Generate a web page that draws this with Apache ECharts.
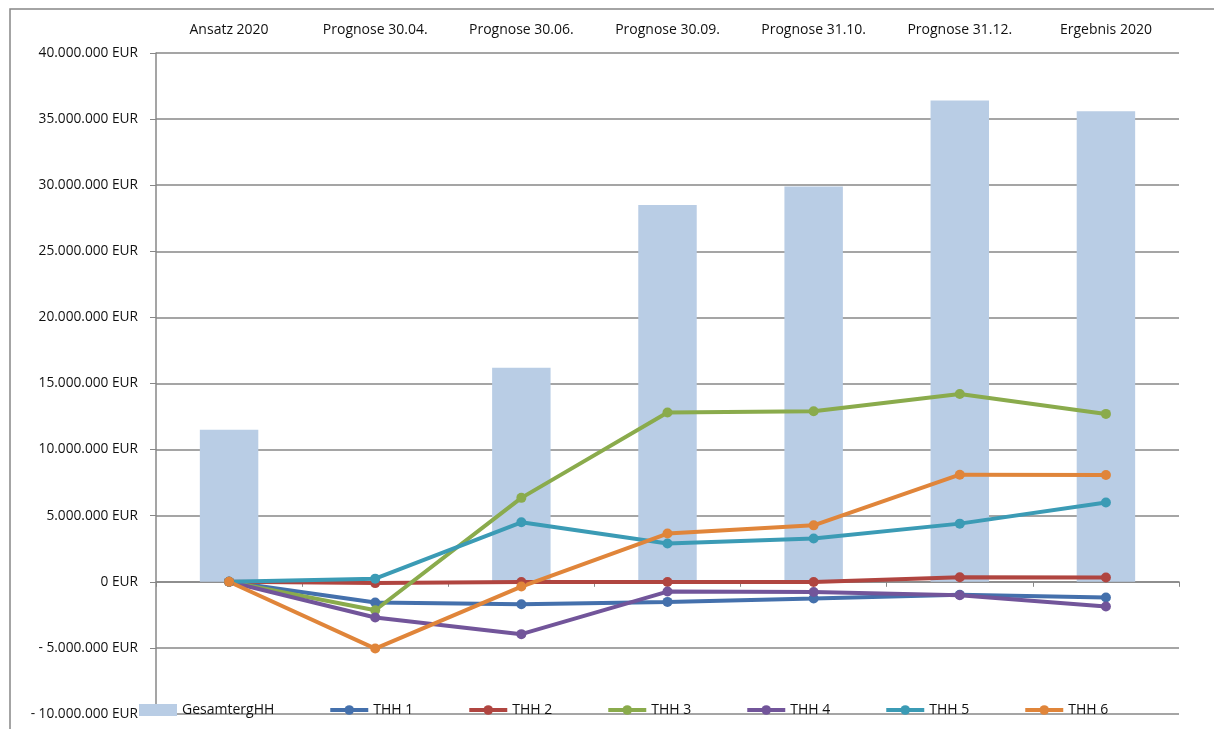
<!DOCTYPE html>
<html>
<head>
<meta charset="utf-8">
<script src="https://cdn.jsdelivr.net/npm/echarts@6/dist/echarts.min.js"></script>
<style>
  html, body { margin: 0; padding: 0; background: #fff; }
  #chart { width: 1214px; height: 729px; }
</style>
</head>
<body>
<div id="chart"></div>
<script>
// categories along the top
const categories = ['Ansatz 2020', 'Prognose 30.04.', 'Prognose 30.06.', 'Prognose 30.09.', 'Prognose 31.10.', 'Prognose 31.12.', 'Ergebnis 2020'];

// values in EUR
const gesamtergHH = [11500000, 0, 16200000, 28500000, 29900000, 36400000, 35600000];
const thh1 = [0, -1570000, -1700000, -1520000, -1270000, -980000, -1190000];
const thh2 = [0, -100000, -20000, -10000, -10000, 340000, 320000];
const thh3 = [0, -2150000, 6350000, 12800000, 12900000, 14200000, 12700000];
const thh4 = [0, -2700000, -3960000, -740000, -770000, -1020000, -1870000];
const thh5 = [0, 240000, 4500000, 2900000, 3270000, 4400000, 6000000];
const thh6 = [0, -5050000, -360000, 3650000, 4270000, 8100000, 8080000];

const yMin = -10000000;
const yMax = 40000000;
const yStep = 5000000;

const font = '"Open Sans", sans-serif';
const gridGray = '#878787';
const textColor = '#111';

const formatEur = (v) => {
  const s = Math.abs(v).toString().replace(/\B(?=(\d{3})+(?!\d))/g, '.');
  return (v < 0 ? '- ' : '') + s + ' EUR';
};

const lineSeries = (name, data, color) => ({
  name: name,
  type: 'line',
  data: data,
  symbol: 'circle',
  symbolSize: 10,
  itemStyle: { color: color },
  lineStyle: { color: color, width: 4 },
  emphasis: { disabled: true }
});

const chart = echarts.init(document.getElementById('chart'));

chart.setOption({
  animation: false,
  textStyle: { fontFamily: font },
  graphic: [
    {
      type: 'rect',
      shape: { x: 10, y: 9, width: 1240, height: 760 },
      style: { fill: 'none', stroke: gridGray, lineWidth: 1.5 },
      silent: true
    }
  ],
  grid: { left: 156, right: 35, top: 53, bottom: 15 },
  legend: {
    left: 134,
    top: 698,
    itemWidth: 38,
    itemHeight: 12,
    itemGap: 54,
    lineStyle: { width: 4 },
    textStyle: { fontFamily: font, fontSize: 14, color: textColor },
    data: [
      { name: 'GesamtergHH', icon: 'rect' },
      'THH 1', 'THH 2', 'THH 3', 'THH 4', 'THH 5', 'THH 6'
    ]
  },
  xAxis: [
    {
      type: 'category',
      data: categories,
      position: 'top',
      axisLine: { show: false, onZero: false },
      axisTick: { show: false },
      axisLabel: { margin: 16, fontSize: 14, color: textColor, fontFamily: font }
    },
    {
      type: 'category',
      data: categories,
      position: 'bottom',
      axisLine: { onZero: true, onZeroAxisIndex: 0, lineStyle: { color: gridGray, width: 1.5 } },
      axisTick: { show: true, length: 5, lineStyle: { color: gridGray } },
      axisLabel: { show: false }
    }
  ],
  yAxis: {
    type: 'value',
    min: yMin,
    max: yMax,
    interval: yStep,
    axisLine: { show: true, lineStyle: { color: gridGray, width: 1.5 } },
    axisTick: { show: true, length: 6, lineStyle: { color: gridGray } },
    splitLine: { lineStyle: { color: gridGray, width: 1.5 } },
    axisLabel: {
      formatter: formatEur,
      margin: 18,
      fontSize: 13.7,
      color: textColor,
      fontFamily: font
    }
  },
  series: [
    {
      name: 'GesamtergHH',
      type: 'bar',
      data: gesamtergHH,
      barWidth: '40%',
      itemStyle: { color: '#b9cde5' },
      emphasis: { disabled: true }
    },
    lineSeries('THH 1', thh1, '#4470ac'),
    lineSeries('THH 2', thh2, '#b04540'),
    lineSeries('THH 3', thh3, '#8aab4c'),
    lineSeries('THH 4', thh4, '#72559a'),
    lineSeries('THH 5', thh5, '#3b9bb5'),
    lineSeries('THH 6', thh6, '#e0853a')
  ]
});
</script>
</body>
</html>
